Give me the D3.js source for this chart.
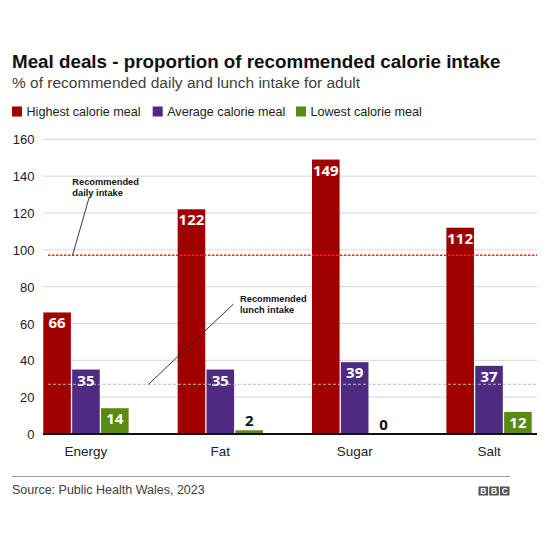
<!DOCTYPE html>
<html>
<head>
<meta charset="utf-8">
<script src="https://cdn.jsdelivr.net/npm/d3@7"></script>
<style>
  html, body { margin: 0; padding: 0; background: #fff; }
  svg { display: block; }
</style>
</head>
<body>
<svg id="chart" width="549" height="549"></svg>
<script>
const categories = ["Energy", "Fat", "Sugar", "Salt"];
const seriesNames = ["Highest calorie meal", "Average calorie meal", "Lowest calorie meal"];
const highest = [66, 122, 149, 112];
const average = [35, 35, 39, 37];
const lowest = [14, 2, 0, 12];
const yTicks = [0, 20, 40, 60, 80, 100, 120, 140, 160];
const dailyIntake = 97;
const lunchIntake = 27;
const colors = ["#a00000", "#4e2b80", "#588a14"];

const series = [highest, average, lowest];
const svg = d3.select("#chart");
const font = "'Liberation Sans', Arial, sans-serif";
const boldFont = "'Noto Sans', 'Liberation Sans', sans-serif";

// Title
svg.append("text").attr("x", 12).attr("y", 67.5)
  .attr("font-family", font).attr("font-weight", "bold").attr("font-size", 18.8)
  .attr("fill", "#111").text("Meal deals - proportion of recommended calorie intake");
svg.append("text").attr("x", 12).attr("y", 87.5)
  .attr("font-family", font).attr("font-size", 15.5)
  .attr("fill", "#404040").text("% of recommended daily and lunch intake for adult");

// Legend
const legendX = [12, 152.7, 296];
seriesNames.forEach((n, i) => {
  svg.append("rect").attr("x", legendX[i]).attr("y", 106.5).attr("width", 10).attr("height", 10)
    .attr("fill", colors[i]);
  svg.append("text").attr("x", legendX[i] + 14.5).attr("y", 116)
    .attr("font-family", font).attr("font-size", 12.6).attr("fill", "#222").text(n);
});

// Scales
const y = d3.scaleLinear().domain([0, 160]).range([434, 139.3]);
const x0 = d3.scaleBand().domain(categories).range([43.3, 531.7]).paddingInner(0.365).paddingOuter(0);
const x1 = d3.scaleBand().domain([0, 1, 2]).range([0, x0.bandwidth()]).paddingInner(0.045);

// Gridlines
const grid = svg.append("g");
grid.selectAll("line").data(yTicks.filter(d => d > 0)).join("line")
  .attr("x1", 43).attr("x2", 537)
  .attr("y1", d => y(d)).attr("y2", d => y(d))
  .attr("stroke", "#d6d6d6").attr("stroke-width", 1);

// Y axis labels
const yAxis = d3.axisLeft(y).tickValues(yTicks).tickSize(0).tickPadding(0);
const yg = svg.append("g").attr("transform", "translate(34.5,0)").call(yAxis);
yg.select(".domain").remove();
yg.selectAll("text").attr("font-family", font).attr("font-size", 13).attr("fill", "#222").attr("dy", "0.35em");

// Bars
const groups = svg.append("g").selectAll("g").data(categories).join("g")
  .attr("transform", d => `translate(${x0(d)},0)`);
groups.selectAll("rect").data((c, ci) => series.map((s, si) => ({ si, v: s[ci] }))).join("rect")
  .attr("x", d => x1(d.si)).attr("width", x1.bandwidth())
  .attr("y", d => y(d.v)).attr("height", d => y(0) - y(d.v))
  .attr("fill", d => colors[d.si]);

// Reference lines
svg.append("line").attr("x1", 48).attr("x2", 537).attr("y1", y(dailyIntake)).attr("y2", y(dailyIntake))
  .attr("stroke", "#ff1f1f").attr("stroke-width", 1.5).attr("stroke-dasharray", "2.5,1.5");
svg.append("line").attr("x1", 48).attr("x2", 537).attr("y1", y(lunchIntake)).attr("y2", y(lunchIntake))
  .attr("stroke", "#b8b8b8").attr("stroke-width", 1).attr("stroke-dasharray", "3,2");

// Value labels
groups.selectAll("text").data((c, ci) => series.map((s, si) => ({ si, v: s[ci] }))).join("text")
  .attr("x", d => x1(d.si) + x1.bandwidth() / 2)
  .attr("y", d => d.v >= 10 ? y(d.v) + 16 : y(d.v) - 4)
  .attr("text-anchor", "middle")
  .attr("font-family", boldFont).attr("font-weight", "bold").attr("font-size", 15)
  .attr("fill", d => d.v >= 10 ? "#fff" : "#111")
  .text(d => d.v);

// Baseline
svg.append("line").attr("x1", 43).attr("x2", 537).attr("y1", y(0)).attr("y2", y(0))
  .attr("stroke", "#111").attr("stroke-width", 2);

// Category labels
const xAxis = d3.axisBottom(x0).tickSize(0).tickPadding(0);
const xg = svg.append("g").attr("transform", "translate(0,446.5)").call(xAxis);
xg.select(".domain").remove();
xg.selectAll("text").attr("font-family", font).attr("font-size", 13.5).attr("fill", "#222").attr("dy", "0.71em");

// Annotations
function annotate(lines, tx, ty, lx1, ly1, lx2, ly2) {
  const t = svg.append("text").attr("x", tx).attr("y", ty)
    .attr("font-family", font).attr("font-weight", "bold").attr("font-size", 9.3).attr("fill", "#111");
  lines.forEach((l, i) => t.append("tspan").attr("x", tx).attr("dy", i === 0 ? 0 : 10.7).text(l));
  svg.append("line").attr("x1", lx1).attr("y1", ly1).attr("x2", lx2).attr("y2", ly2)
    .attr("stroke", "#222").attr("stroke-width", 0.9);
}
annotate(["Recommended", "daily intake"], 72.3, 185, 89, 198, 72.5, y(dailyIntake));
annotate(["Recommended", "lunch intake"], 240, 302, 233.5, 304, 148.5, y(lunchIntake));

// Footer
svg.append("line").attr("x1", 12).attr("x2", 510).attr("y1", 476.5).attr("y2", 476.5)
  .attr("stroke", "#999").attr("stroke-width", 1);
svg.append("text").attr("x", 12).attr("y", 493.5)
  .attr("font-family", font).attr("font-size", 12.5).attr("fill", "#404040")
  .text("Source: Public Health Wales, 2023");
["B", "B", "C"].forEach((ch, i) => {
  const bx = 478.5 + i * 10.7;
  svg.append("rect").attr("x", bx).attr("y", 486.5).attr("width", 9.6).attr("height", 9)
    .attr("fill", "#555");
  svg.append("text").attr("x", bx + 4.8).attr("y", 494.3).attr("text-anchor", "middle")
    .attr("font-family", font).attr("font-weight", "bold").attr("font-size", 8.5).attr("fill", "#fff").text(ch);
});
</script>
</body>
</html>
